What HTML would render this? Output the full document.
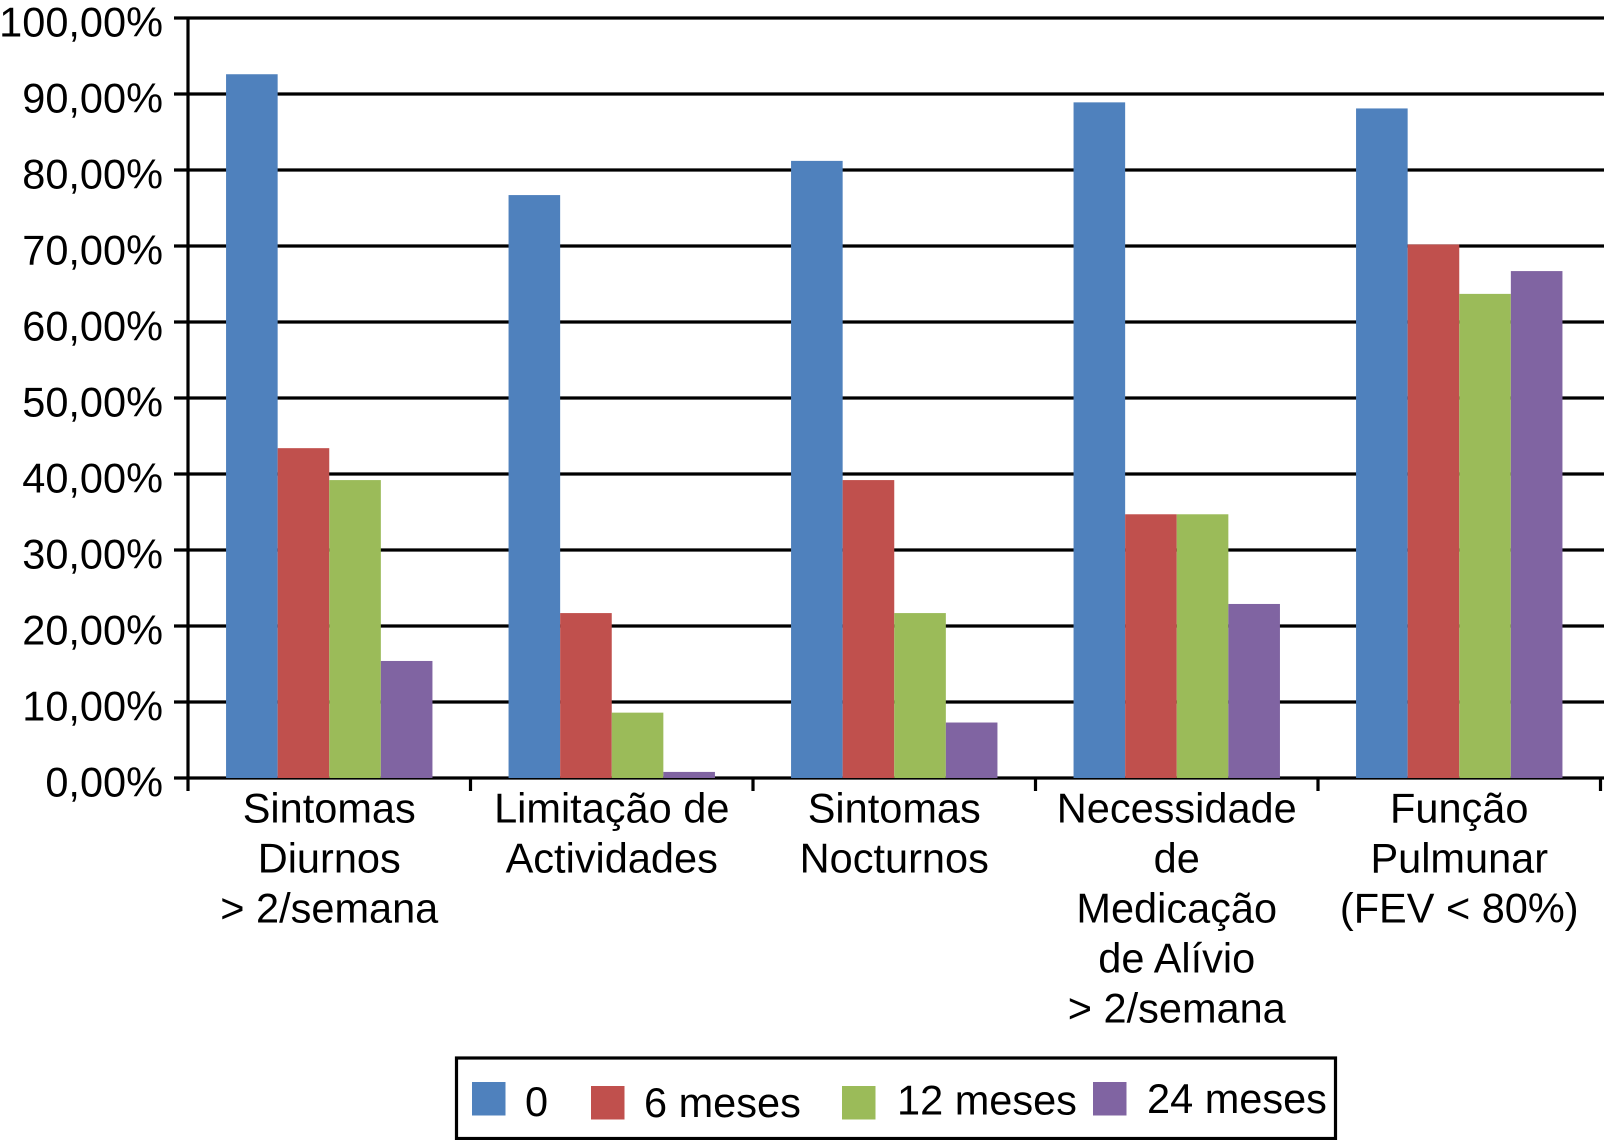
<!DOCTYPE html>
<html lang="pt">
<head>
<meta charset="utf-8">
<title>Gráfico de barras</title>
<style>
html,body{margin:0;padding:0;background:#fff;}
svg{display:block;}
text{font-family:"Liberation Sans",sans-serif;font-size:41.5px;fill:#000;}
</style>
</head>
<body>
<svg id="chart" width="1605" height="1140" viewBox="0 0 1605 1140" xmlns="http://www.w3.org/2000/svg">
  <rect x="0" y="0" width="1605" height="1140" fill="#ffffff"/>
  <g id="grid"></g>
  <g id="bars"></g>
  <g id="axes"></g>
  <g id="ylabels"></g>
  <g id="xlabels"></g>
  <g>
    <rect x="456.5" y="1058" width="879" height="80.5" fill="#fff" stroke="#000" stroke-width="3.2"/>
    <rect x="472" y="1082" width="33.5" height="33.5" fill="#4F81BD"/>
    <text x="525" y="1116">0</text>
    <rect x="591" y="1086" width="33.5" height="33.5" fill="#C0504D"/>
    <text x="644" y="1117">6 meses</text>
    <rect x="842" y="1086" width="33.5" height="33.5" fill="#9BBB59"/>
    <text x="897" y="1114.5">12 meses</text>
    <rect x="1093" y="1082" width="33.5" height="33.5" fill="#8064A2"/>
    <text x="1147" y="1113">24 meses</text>
  </g>
</svg>
<script>
const categories = [
  ["Sintomas", "Diurnos", "> 2/semana"],
  ["Limitação de", "Actividades"],
  ["Sintomas", "Nocturnos"],
  ["Necessidade", "de", "Medicação", "de Alívio", "> 2/semana"],
  ["Função", "Pulmunar", "(FEV < 80%)"]
];
const seriesNames = ["0", "6 meses", "12 meses", "24 meses"];
const seriesColors = ["#4F81BD", "#C0504D", "#9BBB59", "#8064A2"];
const values0 = [92.6, 76.7, 81.2, 88.9, 88.1];
const values6 = [43.4, 21.7, 39.2, 34.7, 70.2];
const values12 = [39.2, 8.6, 21.7, 34.7, 63.7];
const values24 = [15.4, 0.8, 7.3, 22.9, 66.7];
const yTicks = [0, 10, 20, 30, 40, 50, 60, 70, 80, 90, 100];
const yTickLabels = ["0,00%", "10,00%", "20,00%", "30,00%", "40,00%", "50,00%", "60,00%", "70,00%", "80,00%", "90,00%", "100,00%"];

const NS = "http://www.w3.org/2000/svg";
const plotLeft = 188, plotRight = 1604, plotTop = 18, plotBottom = 778;
const bandWidth = 282.5, barWidth = 51.6;
const allSeries = [values0, values6, values12, values24];

function yScale(v) {
  return plotBottom - (v / 100) * (plotBottom - plotTop);
}
function bandStart(i) {
  return plotLeft + bandWidth * i;
}
function barX(i, s) {
  const groupWidth = barWidth * allSeries.length;
  return bandStart(i) + (bandWidth - groupWidth) / 2 + s * barWidth;
}
function make(tag, attrs, parent, text) {
  const el = document.createElementNS(NS, tag);
  for (const k in attrs) el.setAttribute(k, attrs[k]);
  if (text !== undefined) el.textContent = text;
  parent.appendChild(el);
  return el;
}

const gridG = document.getElementById("grid");
const barsG = document.getElementById("bars");
const axesG = document.getElementById("axes");
const yLabelsG = document.getElementById("ylabels");
const xLabelsG = document.getElementById("xlabels");

yTicks.forEach(function (t, i) {
  const y = yScale(t);
  const line = make("line", {x1: 174, x2: plotRight, y1: y, y2: y, stroke: "#000", "stroke-width": 3.2}, gridG);
  
  
  const label = make("text", {x: 163, y: y + 18.5, "text-anchor": "end"}, yLabelsG, yTickLabels[i]);
  
  
});

allSeries.forEach(function (vals, s) {
  vals.forEach(function (v, i) {
    const y = yScale(v);
    const bar = make("rect", {x: barX(i, s), y: y, width: barWidth, height: plotBottom - y, fill: seriesColors[s]}, barsG);
    
    
    make("title", {}, bar, seriesNames[s] + ": " + v);
  });
});

const yAxis = make("line", {x1: plotLeft, x2: plotLeft, y1: plotTop - 1.5, y2: 791, stroke: "#000", "stroke-width": 3.2}, axesG);



for (let i = 1; i <= categories.length; i++) {
  const x = Math.min(bandStart(i), 1603);
  const tick = make("line", {x1: x, x2: x, y1: plotBottom, y2: 791, stroke: "#000", "stroke-width": 3.2}, axesG);
  
  
}

categories.forEach(function (lines, i) {
  const cx = bandStart(i) + bandWidth / 2;
  lines.forEach(function (ln, j) {
    const t = make("text", {x: cx, y: 822.5 + j * 50, "text-anchor": "middle"}, xLabelsG, ln);
    
    
  });
});
</script>
</body>
</html>
